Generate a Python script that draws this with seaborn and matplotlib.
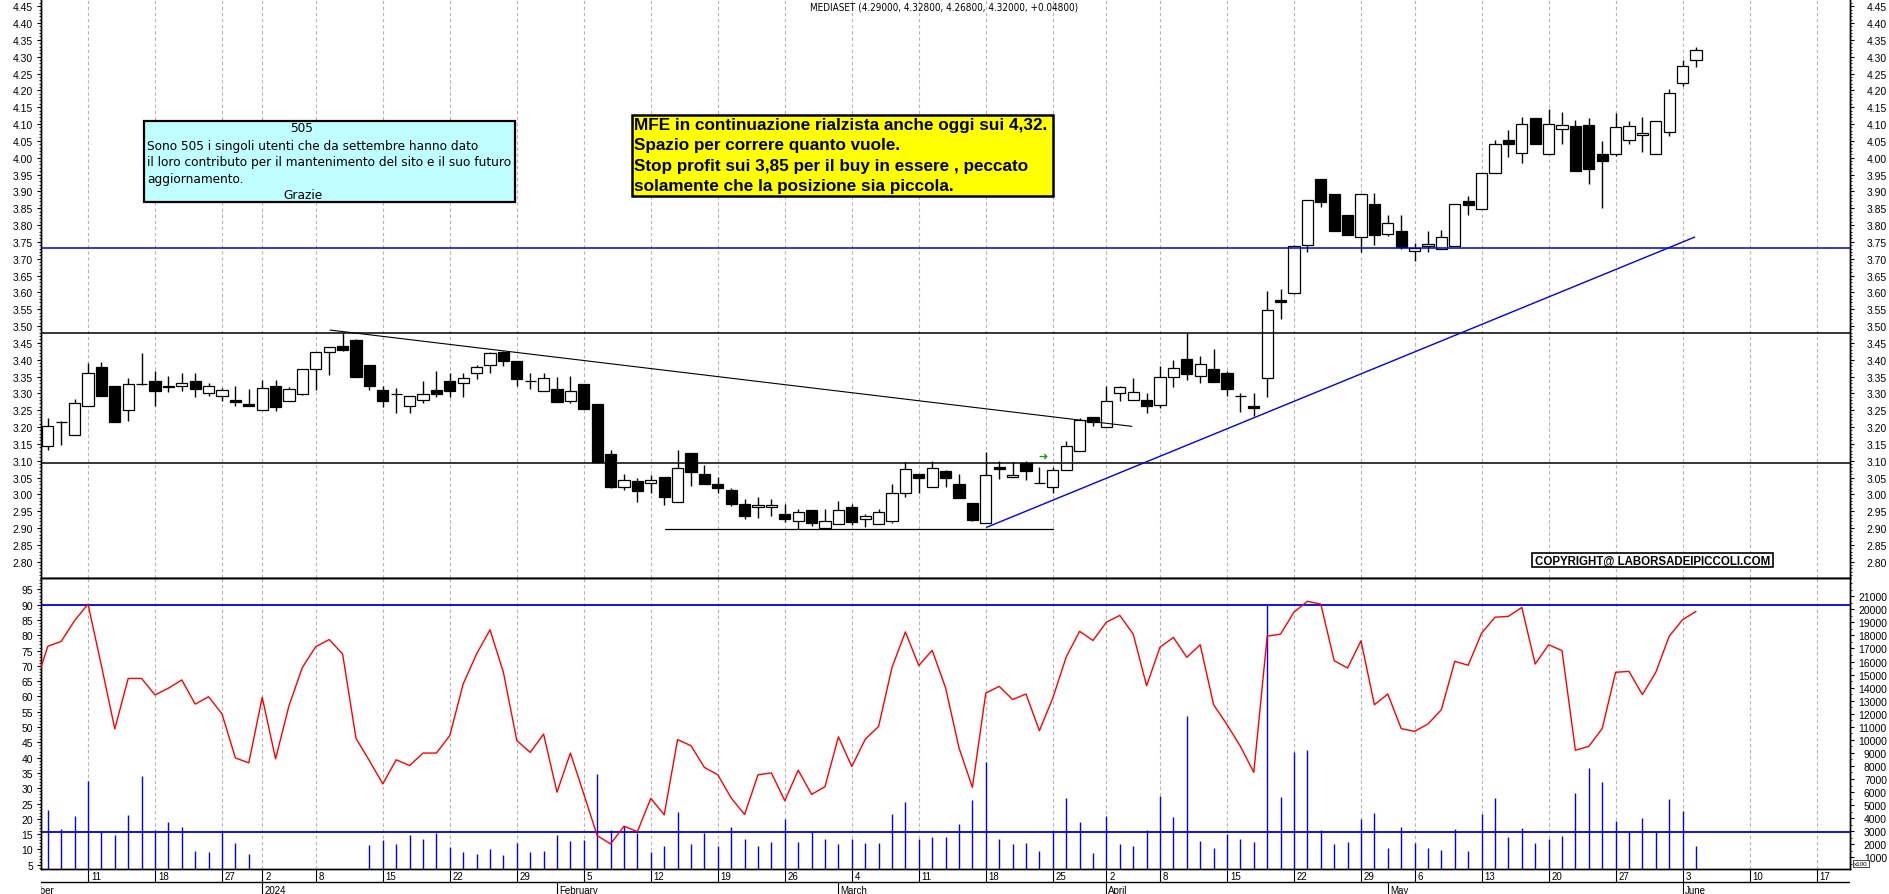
import numpy as np
import pandas as pd
import matplotlib
matplotlib.use('Agg')
import matplotlib.pyplot as plt
import seaborn as sns
from matplotlib import font_manager as fm
from matplotlib.patches import Rectangle
from matplotlib.ticker import MultipleLocator, FormatStrFormatter, FixedLocator

# ---------------------------------------------------------------- data
TITLE = 'MEDIASET (4.29000, 4.32800, 4.26800, 4.32000, +0.04800)'
HOLIDAYS = ['2023-12-25', '2023-12-26', '2024-01-01', '2024-03-29', '2024-04-01', '2024-05-01']
FIRST_DAY = '2023-12-06'
OSC_FIRST_DAY = '2023-12-05'

open_ = [3.143, 3.214, 3.177, 3.261, 3.378, 3.322, 3.250, 3.328, 3.337, 3.321, 3.321, 3.337, 3.300,
         3.291, 3.280, 3.267, 3.250, 3.321, 3.278, 3.299, 3.371, 3.422, 3.440,
         3.459, 3.384, 3.310, 3.299, 3.261, 3.280, 3.310, 3.337, 3.331, 3.361,
         3.383, 3.422, 3.396, 3.337, 3.308, 3.313, 3.278, 3.328, 3.268, 3.120,
         3.021, 3.039, 3.033, 3.052, 2.976, 3.123, 3.061, 3.030, 3.013, 2.970,
         2.962, 2.962, 2.941, 2.920, 2.954, 2.899, 2.911, 2.962, 2.927, 2.911,
         2.920, 3.003, 3.060, 3.021, 3.068, 3.031, 2.974, 2.914, 3.080, 3.051,
         3.092, 3.035, 3.021, 3.073, 3.130, 3.230, 3.199, 3.300, 3.279, 3.279,
         3.265, 3.348, 3.402, 3.351, 3.372, 3.360, 3.291, 3.261, 3.347, 3.578,
         3.598, 3.740, 3.937, 3.892, 3.830, 3.763, 3.861, 3.772, 3.781, 3.722,
         3.737, 3.729, 3.739, 3.870, 3.847, 3.954, 4.052, 4.014, 4.118, 4.010,
         4.084, 4.093, 4.096, 4.010, 4.010, 4.052, 4.066, 4.010, 4.075, 4.221, 4.290]
high = [3.227, 3.219, 3.283, 3.389, 3.393, 3.322, 3.345, 3.420, 3.366, 3.351, 3.361, 3.361, 3.331,
        3.316, 3.321, 3.313, 3.340, 3.340, 3.318, 3.371, 3.422, 3.439, 3.478,
        3.461, 3.384, 3.321, 3.315, 3.291, 3.336, 3.366, 3.361, 3.361, 3.384,
        3.424, 3.427, 3.396, 3.361, 3.361, 3.350, 3.351, 3.328, 3.268, 3.132,
        3.061, 3.048, 3.056, 3.052, 3.132, 3.123, 3.087, 3.051, 3.018, 2.985,
        2.991, 2.986, 2.971, 2.955, 2.954, 2.957, 2.980, 2.970, 2.941, 2.957,
        3.031, 3.095, 3.060, 3.098, 3.073, 3.060, 2.974, 3.125, 3.098, 3.097,
        3.098, 3.082, 3.080, 3.158, 3.226, 3.230, 3.323, 3.323, 3.345, 3.300,
        3.380, 3.399, 3.478, 3.410, 3.432, 3.367, 3.301, 3.301, 3.605, 3.610,
        3.741, 3.873, 3.937, 3.892, 3.830, 3.891, 3.895, 3.830, 3.830, 3.747,
        3.781, 3.785, 3.861, 3.885, 3.954, 4.053, 4.082, 4.121, 4.118, 4.145,
        4.136, 4.113, 4.117, 4.050, 4.133, 4.108, 4.120, 4.108, 4.204, 4.290, 4.328]
low = [3.133, 3.148, 3.177, 3.261, 3.292, 3.216, 3.219, 3.326, 3.263, 3.305, 3.308, 3.290, 3.293,
       3.276, 3.263, 3.263, 3.250, 3.249, 3.278, 3.296, 3.311, 3.353, 3.425,
       3.350, 3.311, 3.259, 3.243, 3.243, 3.272, 3.288, 3.290, 3.290, 3.343,
       3.361, 3.382, 3.323, 3.313, 3.308, 3.275, 3.272, 3.252, 3.093, 3.020,
       3.014, 2.978, 3.004, 2.969, 2.976, 3.026, 3.032, 3.004, 2.965, 2.927,
       2.931, 2.937, 2.917, 2.897, 2.907, 2.897, 2.911, 2.910, 2.904, 2.911,
       2.915, 2.991, 3.004, 3.021, 3.023, 2.988, 2.922, 2.914, 3.046, 3.051,
       3.043, 3.033, 3.004, 3.073, 3.130, 3.204, 3.199, 3.278, 3.279, 3.242,
       3.255, 3.320, 3.341, 3.331, 3.335, 3.293, 3.245, 3.234, 3.290, 3.521,
       3.595, 3.719, 3.852, 3.783, 3.771, 3.719, 3.742, 3.766, 3.729, 3.694,
       3.721, 3.729, 3.739, 3.830, 3.847, 3.954, 4.002, 3.984, 4.042, 4.010,
       4.042, 3.961, 3.923, 3.850, 4.004, 4.042, 4.018, 4.010, 4.065, 4.213, 4.268]
close = [3.202, 3.214, 3.270, 3.361, 3.292, 3.216, 3.327, 3.328, 3.308, 3.318, 3.330, 3.312, 3.321,
         3.310, 3.273, 3.263, 3.315, 3.258, 3.312, 3.371, 3.422, 3.439, 3.430,
         3.350, 3.323, 3.278, 3.299, 3.291, 3.299, 3.299, 3.308, 3.345, 3.377,
         3.420, 3.396, 3.343, 3.337, 3.345, 3.275, 3.306, 3.252, 3.095, 3.023,
         3.042, 3.011, 3.042, 2.993, 3.077, 3.065, 3.032, 3.020, 2.972, 2.937,
         2.968, 2.968, 2.928, 2.947, 2.916, 2.921, 2.953, 2.919, 2.937, 2.947,
         3.003, 3.075, 3.050, 3.077, 3.048, 2.988, 2.925, 3.058, 3.076, 3.058,
         3.068, 3.033, 3.073, 3.145, 3.222, 3.216, 3.276, 3.318, 3.303, 3.261,
         3.348, 3.374, 3.358, 3.386, 3.335, 3.314, 3.291, 3.255, 3.548, 3.570,
         3.739, 3.873, 3.869, 3.783, 3.771, 3.891, 3.771, 3.805, 3.736, 3.731,
         3.743, 3.763, 3.861, 3.860, 3.954, 4.040, 4.042, 4.099, 4.042, 4.099,
         4.096, 3.961, 3.967, 3.989, 4.090, 4.093, 4.072, 4.108, 4.191, 4.273, 4.320]
oscillator = [63.0, 76.4, 78.0, 84.8, 90.2, 70.1, 49.4, 65.9, 65.9, 60.5, 62.7, 65.4, 57.5, 59.9,
              54.3, 39.9, 38.3, 59.7, 39.6, 57.0, 69.5, 76.3, 78.6, 73.9,
              46.3, 39.0, 31.4, 39.3, 37.4, 41.5, 41.5, 47.2, 64.1, 73.9,
              81.8, 67.9, 45.6, 41.7, 47.7, 28.7, 41.5, 28.1, 14.5, 11.8,
              17.6, 15.8, 26.7, 21.3, 45.9, 43.9, 36.8, 34.4, 26.8, 21.4,
              34.4, 35.0, 25.9, 35.9, 28.0, 30.5, 46.8, 37.1, 46.0, 50.2,
              69.5, 81.1, 70.1, 75.1, 62.8, 43.2, 30.3, 61.1, 63.3, 59.0,
              60.8, 48.8, 59.5, 72.9, 81.3, 78.3, 84.3, 86.5, 80.4, 63.5,
              76.1, 79.3, 72.8, 76.9, 57.3, 50.8, 43.7, 35.2, 79.7, 80.4,
              87.6, 91.1, 90.2, 71.7, 69.3, 78.2, 57.3, 60.8, 49.5, 48.6,
              51.0, 55.7, 71.5, 70.2, 80.7, 85.9, 86.2, 89.1, 70.6, 76.9,
              75.0, 42.4, 43.7, 49.5, 67.9, 68.2, 60.6, 67.9, 79.7, 85.1, 87.8]
volume = [4620, 3165, 4160, 6860, 3010, 2730, 4240, 7250, 3090, 3700, 3320, 1500, 1400,
          3010, 2090, 1250, 0, 0, 0, 0, 0, 0, 0,
          0, 1940, 2320, 2020, 2710, 2400, 2880, 1790, 1400, 1250,
          1630, 1170, 2090, 1400, 1480, 2710, 2240, 2320, 7380, 3060,
          3370, 2880, 1400, 1860, 4470, 2020, 2880, 1860, 3320, 2400,
          1860, 2170, 3960, 2170, 3010, 2400, 2020, 2400, 2090, 2090,
          4310, 5230, 2400, 2550, 2550, 3550, 5380, 8320, 2400, 2020,
          2090, 1480, 3010, 5540, 3700, 1330, 4160, 2020, 1860, 3090,
          5690, 4080, 11820, 2240, 1710, 2780, 2400, 2170, 20350, 5620,
          9060, 9210, 3090, 2020, 2170, 3960, 4390, 1710, 3320, 2090,
          1710, 1560, 3165, 1480, 4310, 5540, 2550, 3240, 2090, 2400,
          2630, 5920, 7840, 6770, 3780, 2910, 4000, 2910, 5460, 4540, 1890]
volume_ticks = [1000, 2000, 3000, 4000, 5000, 6000, 7000, 8000, 9000, 10000, 11000,
                12000, 13000, 14000, 15000, 16000, 17000, 18000, 19000, 20000, 21000]

# horizontal levels and analyst trend lines (calendar-index, price)
level_blue = 3.731
levels_black = [3.478, 3.092]
trend_down_x, trend_down_y = [24.06, 83.9], [3.488, 3.202]
support_x, support_y = [49.06, 78.0], [2.897, 2.897]
trend_up_x, trend_up_y = [73.06, 125.9], [2.902, 3.764]
arrow_x, arrow_y = 77.3, 3.115
osc_upper = 90
vol_mean = 2910

box_cyan_lines = ['Sono 505 i singoli utenti che da settembre hanno dato',
                  'il loro contributo per il mantenimento del sito e il suo futuro',
                  'aggiornamento.']
box_yellow_lines = ['MFE in continuazione rialzista anche oggi sui 4,32.',
                    'Spazio per correre quanto vuole.',
                    'Stop profit sui 3,85 per il buy in essere , peccato',
                    'solamente che la posizione sia piccola.']
COPYRIGHT = 'COPYRIGHT@ LABORSADEIPICCOLI.COM'

# ---------------------------------------------------------------- style
sns.set_style('white')


def narrow_font():
    files = [f for f in fm.fontManager.ttflist]
    for key in ['LiberationSansNarrow-Regular', 'ArialNarrow', 'DejaVuSansCondensed.ttf',
                'NotoSans-Condensed', 'OpenSans_Condensed', 'Roboto_Condensed', 'RobotoCondensed']:
        for f in files:
            if key.lower() in f.fname.replace(' ', '').lower():
                return fm.FontProperties(fname=f.fname)
    for f in files:
        if f.name in ('DejaVu Sans', 'Noto Sans', 'Liberation Sans') and f.stretch == 'condensed' \
                and f.weight in (400, 'normal', 'regular') and f.style == 'normal':
            return fm.FontProperties(fname=f.fname)
    return fm.FontProperties(family='Liberation Sans')


NARROW_FP = narrow_font()
plt.rcParams['font.family'] = ['Liberation Sans', 'DejaVu Sans']
plt.rcParams['axes.edgecolor'] = 'black'
plt.rcParams['xtick.color'] = 'black'
plt.rcParams['ytick.color'] = 'black'
plt.rcParams['text.color'] = 'black'
plt.rcParams['axes.linewidth'] = 1.0

W, H = 1890, 895
fig = plt.figure(figsize=(W / 100, H / 100), dpi=100)


def fx(px):
    return px / W


def fy(py):
    return 1 - py / H


L, R = 41.5, 1850.0
Y_SPLIT, Y_BOT = 579.0, 870.0
ax = fig.add_axes([fx(L), fy(Y_SPLIT), fx(R - L), Y_SPLIT / H])
axb = fig.add_axes([fx(L), fy(Y_BOT), fx(R - L), (Y_BOT - Y_SPLIT) / H])
axs = fig.add_axes([fx(L), 0, fx(R - L), (H - Y_BOT) / H])

# calendar of trading days
cal = pd.bdate_range('2023-12-01', '2024-06-28')
cal = cal[~cal.isin(pd.to_datetime(HOLIDAYS))]
pos = {d: k for k, d in enumerate(cal)}
x = np.arange(len(close)) + pos[pd.Timestamp(FIRST_DAY)]
xo = np.arange(len(oscillator)) + pos[pd.Timestamp(OSC_FIRST_DAY)]
ref = pos[pd.Timestamp('2023-12-11')]
DAY_PX = 13.4
XMIN = ref - (88 - L) / DAY_PX
XMAX = ref + (R - 88) / DAY_PX

weeks = [k for k in range(1, len(cal))
         if cal[k].isocalendar()[1] != cal[k - 1].isocalendar()[1] and k >= ref and k <= XMAX]
months = [0] + [k for k in range(1, len(cal)) if cal[k].month != cal[k - 1].month and k <= XMAX]

GRID = dict(color='#b4b4b4', lw=0.8, linestyle=(0, (3, 2.5)), zorder=0)

LEFT_PAD = 3.0
RIGHT_PAD = 23.6
TL = 3.0


def style_y(a, major, minor, fmt, side, size=7.5, fixed=None):
    if fixed is not None:
        a.yaxis.set_major_locator(FixedLocator(fixed))
    else:
        a.yaxis.set_major_locator(MultipleLocator(major))
    a.yaxis.set_minor_locator(MultipleLocator(minor))
    a.yaxis.set_major_formatter(FormatStrFormatter(fmt))
    if side == 'left':
        a.yaxis.tick_left()
        a.tick_params(axis='y', which='major', direction='out', length=TL, width=0.8,
                      labelsize=size, pad=LEFT_PAD)
        a.tick_params(axis='y', which='minor', direction='out', length=1.6, width=0.6)
    else:
        a.yaxis.tick_right()
        a.tick_params(axis='y', which='major', direction='out', length=TL, width=0.8,
                      labelsize=size, pad=RIGHT_PAD)
        a.tick_params(axis='y', which='minor', direction='out', length=1.6, width=0.6)
        for t in a.get_yticklabels():
            t.set_horizontalalignment('right')


# ---------------------------------------------------------------- price panel
o = np.array(open_); c = np.array(close); hi = np.array(high); lo = np.array(low)
up = c >= o
bb = np.minimum(o, c)
bh = np.abs(c - o)
for k in weeks:
    ax.axvline(k, **GRID)
ax.vlines(x, lo, hi, color='black', lw=1.0, zorder=3)
ax.bar(x[up], bh[up], bottom=bb[up], width=0.84, color='white', edgecolor='black', lw=0.9, zorder=4)
ax.bar(x[~up], bh[~up], bottom=bb[~up], width=0.84, color='black', edgecolor='black', lw=0.9, zorder=4)

ax.axhline(level_blue, color='#0000dd', lw=1.1, zorder=5)
for lv in levels_black:
    ax.axhline(lv, color='black', lw=1.1, zorder=5)
ax.plot(trend_down_x, trend_down_y, color='black', lw=0.8, zorder=5)
ax.plot(support_x, support_y, color='black', lw=0.9, zorder=5)
ax.plot(trend_up_x, trend_up_y, color='#0000ee', lw=1.0, zorder=5)
ax.text(arrow_x, arrow_y, '\u279c', color='#1a9a1a', fontsize=8, ha='center', va='center',
        family='DejaVu Sans', zorder=6)

YL = (2.7515, 4.4713)
ax.set_xlim(XMIN, XMAX)
ax.set_ylim(*YL)
ax.set_xticks([])
ax.spines['top'].set_visible(False)

axR = ax.twinx()
axR.set_ylim(*YL)
axR.spines['top'].set_visible(False)
style_y(ax, 0.05, 0.01, '%.2f', 'left')
style_y(axR, 0.05, 0.01, '%.2f', 'right')

# ---------------------------------------------------------------- oscillator / volume panel
for k in weeks:
    axb.axvline(k, **GRID)
axb.vlines(x, 0, volume, color='#0000ff', lw=1.0, zorder=2)
axb.axhline(vol_mean, color='#0000dd', lw=1.3, zorder=3)
axb.set_xlim(XMIN, XMAX)
axb.set_ylim(103, 22402)
axb.set_xticks([])

axo = axb.twinx()
sns.lineplot(x=xo, y=oscillator, ax=axo, color='#ff0000', lw=1.0, estimator=None,
             sort=False, legend=False, zorder=4)
axo.axhline(osc_upper, color='#0000dd', lw=1.3, zorder=3)
axo.set_xlim(XMIN, XMAX)
axo.set_ylim(3.594, 98.73)
axo.set_ylabel('')
axo.set_xticks([])
style_y(axb, 1000, 500, '%d', 'right', fixed=volume_ticks)
style_y(axo, 5, 1, '%d', 'left')

# ---------------------------------------------------------------- date strip
axs.set_xlim(XMIN, XMAX)
axs.set_ylim(0, 1)
axs.axis('off')
SEP = 0.48
axs.axhline(SEP, color='black', lw=1.0)
axs.vlines(weeks, SEP, 1, color='black', lw=0.8)
axs.vlines(months, 0, SEP, color='black', lw=0.8)
for k in weeks:
    axs.text(k + 0.22, 0.73, str(cal[k].day), fontsize=7, ha='left', va='center', clip_on=True)
for k in months:
    d = cal[k]
    if k == 0:
        lab = 'December'
    elif d.month == 1:
        lab = str(d.year)
    else:
        lab = d.strftime('%B')
    axs.text(k + 0.15, 0.17, lab, fontsize=7, ha='left', va='center', clip_on=True)

fig.text(fx(1861), fy(864.5), 'x100', fontsize=4.5, ha='center', va='center',
         bbox=dict(boxstyle='square,pad=0.15', fc='white', ec='black', lw=0.5))

# ---------------------------------------------------------------- annotations
renderer = fig.canvas.get_renderer()


def fit(t, target):
    w = t.get_window_extent(renderer).width
    t.set_fontsize(t.get_fontsize() * target / w)
    return t.get_fontsize()


def rect(x0, y0, x1, y1, fc, lw):
    fig.patches.append(Rectangle((fx(x0), fy(y1)), fx(x1 - x0), (y1 - y0) / H,
                                 transform=fig.transFigure, fc=fc, ec='black', lw=lw, zorder=10))


def ntext(xp, yp, s, size, ha):
    t = fig.text(fx(xp), fy(yp), s, ha=ha, va='center', fontproperties=NARROW_FP, zorder=11)
    t.set_fontsize(size)
    return t


tt = ntext(944, 8, TITLE, 7, 'center')
fit(tt, 268)

# cyan box
rect(143.75, 121.7, 514.7, 203.0, '#c0ffff', 1.6)
t2 = ntext(147.3, 162.7, box_cyan_lines[1], 10, 'left')
fs = fit(t2, 364)
ntext(302, 129, '505', fs, 'center')
ntext(147.3, 146.7, box_cyan_lines[0], fs, 'left')
ntext(147.3, 180, box_cyan_lines[2], fs, 'left')
ntext(303, 195.3, 'Grazie', fs, 'center')

# yellow box
rect(631.7, 115.7, 1052.7, 197.3, '#ffff00', 1.8)
ty = fig.text(fx(634.5), fy(125.7), box_yellow_lines[0], fontsize=11, ha='left', va='center',
              weight='bold', zorder=11)
fsy = fit(ty, 415)
for line, yy in zip(box_yellow_lines[1:], [145.7, 166.7, 186.7]):
    fig.text(fx(634.5), fy(yy), line, fontsize=fsy, ha='left', va='center', weight='bold', zorder=11)

# copyright
rect(1532.5, 554.3, 1773.3, 568.3, 'white', 1.2)
tc = fig.text(fx(1653), fy(561.5), COPYRIGHT, fontsize=9, ha='center', va='center',
              weight='bold', zorder=11)
fit(tc, 236)

fig.savefig('out.png', dpi=100)
